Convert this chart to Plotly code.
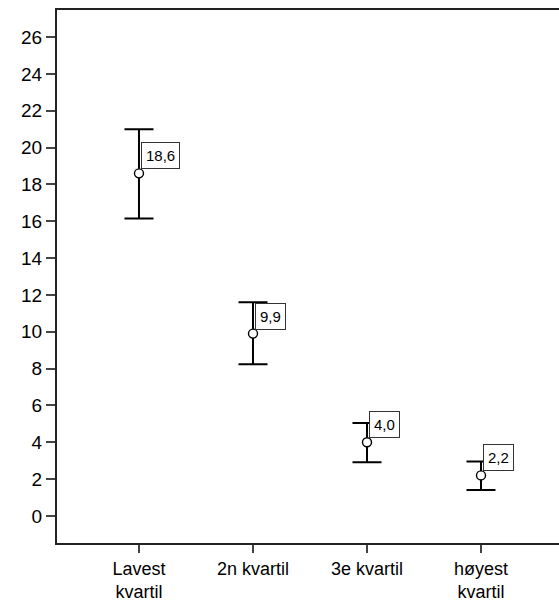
import plotly.graph_objects as go

# Quartile groups with mean and confidence interval bounds
categories = ["Lavest<br>kvartil", "2n kvartil", "3e kvartil", "høyest<br>kvartil"]
means = [18.6, 9.9, 4.0, 2.2]
upper = [21.0, 11.6, 5.04, 2.96]
lower = [16.15, 8.24, 2.92, 1.41]
mean_labels = ["18,6", "9,9", "4,0", "2,2"]
y_ticks = list(range(0, 27, 2))

x_pos = list(range(len(categories)))
err_plus = [u - m for u, m in zip(upper, means)]
err_minus = [m - l for m, l in zip(means, lower)]

fig = go.Figure()
fig.add_trace(go.Scatter(
    x=x_pos,
    y=means,
    mode="markers",
    marker=dict(symbol="circle", size=9, color="white",
                line=dict(color="black", width=1.4)),
    error_y=dict(type="data", symmetric=False, array=err_plus,
                 arrayminus=err_minus, color="black", thickness=2,
                 width=14.5),
    showlegend=False,
    hoverinfo="skip",
))

for xi, m, lab in zip(x_pos, means, mean_labels):
    fig.add_annotation(
        x=xi, y=m, text=lab, showarrow=False,
        xanchor="left", yanchor="bottom", xshift=2, yshift=4,
        font=dict(family="Liberation Sans, Arial, sans-serif", size=15, color="black"),
        bgcolor="white", bordercolor="#333333", borderwidth=1, borderpad=4,
    )

fig.update_layout(
    width=559, height=603,
    margin=dict(l=57, r=0, t=10, b=60),
    paper_bgcolor="white", plot_bgcolor="white",
    font=dict(family="Liberation Sans, Arial, sans-serif", color="black"),
    xaxis=dict(
        range=[-0.719, 3.684], automargin=False,
        tickmode="array", tickvals=x_pos, ticktext=categories,
        showline=True, linecolor="#222222", linewidth=2, mirror=True,
        ticks="outside", ticklen=8, tickwidth=1.5, tickcolor="#444444",
        showgrid=False, zeroline=False,
        tickfont=dict(size=18, color="black"),
    ),
    yaxis=dict(
        range=[-1.47, 27.47], automargin=False,
        tickmode="array", tickvals=y_ticks,
        showline=True, linecolor="#222222", linewidth=2, mirror=False,
        ticks="outside", ticklen=9, tickwidth=1.5, tickcolor="#444444",
        showgrid=False, zeroline=False,
        tickfont=dict(size=19, color="black"),
    ),
)

fig.write_html("out.html")
